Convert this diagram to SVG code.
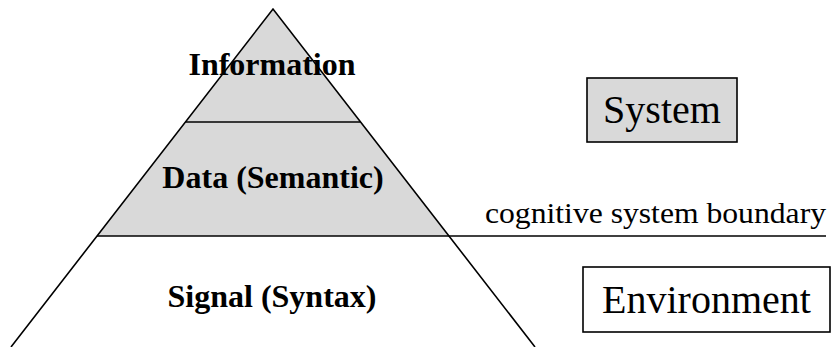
<svg xmlns="http://www.w3.org/2000/svg" width="832" height="347" viewBox="0 0 832 347">
<style>
.shade{fill:#d9d9d9;stroke:none}
.ln{stroke:#000;stroke-width:1.6;fill:none}
text{font-family:'Liberation Serif','Times New Roman',Times,serif;fill:#000}
.bold{font-weight:bold;font-size:32px;text-anchor:middle}
.reg{font-size:40px;text-anchor:middle}
.small{font-size:30px}
</style>
<rect width="832" height="347" fill="#fff"/>
<g id="pyramid-shading">
<polygon class="shade" points="273,9 97,236 449,236"/>
</g>
<g id="connectors">
<line class="ln" x1="185.5" y1="122" x2="360.5" y2="122"/>
<line class="ln" x1="97" y1="236" x2="826" y2="236"/>
<polyline class="ln" points="11,347 273,9 535,347"/>
</g>
<g id="information">
<text class="bold" x="272" y="75" font-family="Liberation Serif">Information</text>
</g>
<g id="data">
<text class="bold" x="273" y="188" font-family="Liberation Serif">Data (Semantic)</text>
</g>
<g id="signal">
<text class="bold" x="272" y="307" font-family="Liberation Serif">Signal (Syntax)</text>
</g>
<g id="boundary-label">
<text class="small" x="485" y="223" font-family="Liberation Serif" textLength="341" lengthAdjust="spacingAndGlyphs">cognitive system boundary</text>
</g>
<g id="system">
<rect x="587" y="78" width="150" height="64" fill="#d9d9d9" stroke="#000" stroke-width="1.6"/>
<text class="reg" x="662" y="123" font-family="Liberation Serif">System</text>
</g>
<g id="environment">
<rect x="583" y="267" width="247" height="65" fill="#fff" stroke="#000" stroke-width="1.6"/>
<text class="reg" x="706.5" y="313" font-family="Liberation Serif">Environment</text>
</g>
</svg>
